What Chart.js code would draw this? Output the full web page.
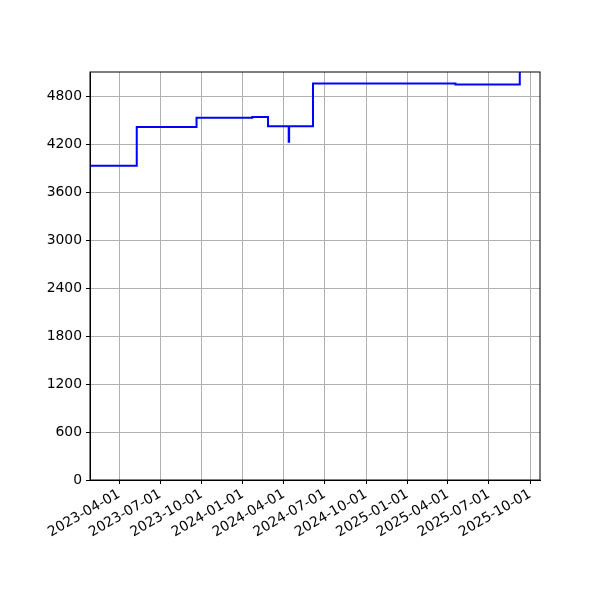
<!DOCTYPE html>
<html>
<head>
<meta charset="utf-8">
<script src="https://cdn.jsdelivr.net/npm/chart.js@4"></script>
<style>
  html, body { margin: 0; padding: 0; background: #fff; }
  canvas { display: block; }
</style>
</head>
<body>
<canvas id="chart" width="600" height="600"></canvas>
<script>
// step points: value holds from this date until the next one
const stepDates = [
    '2023-01-26', '2023-05-10', '2023-09-20', '2024-01-22', '2024-02-26',
    '2024-04-12', '2024-04-13', '2024-06-05', '2025-04-18', '2025-09-08'
];
const stepValues = [3935, 4420, 4537, 4545, 4430, 4235, 4430, 4965, 4952, 5600];

const xTickDates = [
    '2023-04-01', '2023-07-01', '2023-10-01', '2024-01-01', '2024-04-01', '2024-07-01',
    '2024-10-01', '2025-01-01', '2025-04-01', '2025-07-01', '2025-10-01'
];
const yTicks = [0, 600, 1200, 1800, 2400, 3000, 3600, 4200, 4800];

const xMinDate = '2023-01-26';
const xMaxDate = '2025-10-23';

// dates -> days since epoch, so the x scale can be linear
function toDay(s) {
    const p = s.split('-').map(Number);
    return Date.UTC(p[0], p[1] - 1, p[2]) / 86400000;
}
function dayLabel(d) {
    return new Date(d * 86400000).toISOString().slice(0, 10);
}

const points = stepDates.map((d, i) => ({ x: toDay(d), y: stepValues[i] }));

// black frame round the plot area
const frame = {
    id: 'frame',
    afterDraw(chart) {
        const a = chart.chartArea;
        const c = chart.ctx;
        c.save();
        c.strokeStyle = '#000';
        c.lineWidth = 1;
        c.strokeRect(a.left, a.top, a.right - a.left, a.bottom - a.top);
        c.restore();
    }
};

Chart.defaults.font.family = '"DejaVu Sans", sans-serif';
Chart.defaults.font.size = 13.9;
Chart.defaults.color = '#000';

new Chart(document.getElementById('chart'), {
    type: 'line',
    data: {
        datasets: [{
            data: points,
            stepped: true,
            borderColor: '#0000ff',
            borderWidth: 2,
            pointRadius: 0,
            fill: false
        }]
    },
    options: {
        responsive: false,
        animation: false,
        layout: { padding: { top: 72, right: 60, left: 0, bottom: 0 } },
        plugins: { legend: { display: false }, tooltip: { enabled: false } },
        scales: {
            x: {
                type: 'linear',
                min: toDay(xMinDate),
                max: toDay(xMaxDate),
                afterBuildTicks: s => { s.ticks = xTickDates.map(d => ({ value: toDay(d) })); },
                afterFit: s => { s.height = 120; },
                grid: { color: '#b0b0b0', lineWidth: 1, tickColor: '#000', tickLength: 4 },
                border: { color: '#000', width: 1 },
                ticks: {
                    autoSkip: false,
                    minRotation: 30,
                    maxRotation: 30,
                    padding: 2,
                    callback: v => dayLabel(v)
                }
            },
            y: {
                min: 0,
                max: 5110,
                afterBuildTicks: s => { s.ticks = yTicks.map(v => ({ value: v })); },
                afterFit: s => { s.width = 90; },
                grid: { color: '#b0b0b0', lineWidth: 1, tickColor: '#000', tickLength: 4 },
                border: { color: '#000', width: 1 },
                ticks: { padding: 4, callback: v => String(v) }
            }
        }
    },
    plugins: [frame]
});
</script>
</body>
</html>
